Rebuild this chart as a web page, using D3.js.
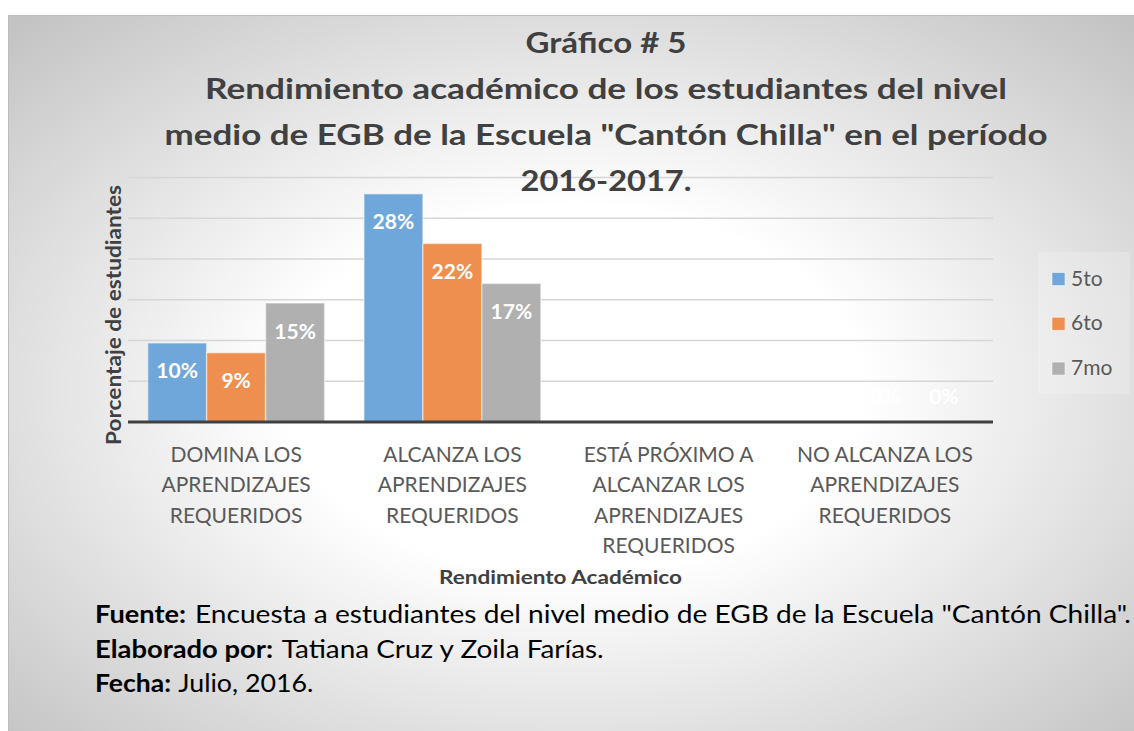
<!DOCTYPE html>
<html>
<head>
<meta charset="utf-8">
<script src="https://cdn.jsdelivr.net/npm/d3@7"></script>
<style>
  html, body { margin: 0; padding: 0; background: #ffffff; }
  svg { display: block; }
</style>
</head>
<body>
<svg id="chart" width="1134" height="731"></svg>
<script>
// ---------------- DATA ----------------
const categories = [
  ["DOMINA LOS", "APRENDIZAJES", "REQUERIDOS"],
  ["ALCANZA LOS", "APRENDIZAJES", "REQUERIDOS"],
  ["ESTÁ PRÓXIMO A", "ALCANZAR LOS", "APRENDIZAJES", "REQUERIDOS"],
  ["NO ALCANZA LOS", "APRENDIZAJES", "REQUERIDOS"]
];
const seriesNames = ["5to", "6to", "7mo"];
const values5to = [9.7, 28.0, null, null];
const values6to = [8.5, 21.9, null, 0];
const values7mo = [14.6, 17.0, null, 0];
const yTicks = [0, 5, 10, 15, 20, 25, 30];
const titleLines = [
  "Gráfico # 5",
  "Rendimiento académico de los estudiantes del nivel",
  "medio de EGB de la Escuela \"Cantón Chilla\" en el período",
  "2016-2017."
];
const yAxisTitle = "Porcentaje de estudiantes";
const xAxisTitle = "Rendimiento Académico";
const footerLines = [
  ["Fuente:", "Encuesta a estudiantes del nivel medio de EGB de la Escuela \"Cantón Chilla\"."],
  ["Elaborado por:", "Tatiana Cruz y Zoila Farías."],
  ["Fecha:", "Julio, 2016."]
];

// ---------------- STYLE / LAYOUT ----------------
const colors = ["#6FA7DA", "#EE8E4F", "#B0B0B0"];
const FONT = "Lato, 'Open Sans', sans-serif";
const svg = d3.select("#chart");

// background with gradient
const defs = svg.append("defs");
const grad = defs.append("radialGradient").attr("id", "bg")
  .attr("cx", "50%").attr("cy", "52%").attr("r", "71%");
grad.append("stop").attr("offset", "0").attr("stop-color", "#ffffff");
grad.append("stop").attr("offset", "0.36").attr("stop-color", "#ffffff");
grad.append("stop").attr("offset", "1").attr("stop-color", "#c3c3c3");

svg.append("rect").attr("x", 8.5).attr("y", 15.5).attr("width", 1130).attr("height", 720)
  .attr("fill", "url(#bg)").attr("stroke", "#bdbdbd").attr("stroke-width", 1);

// scales
const plotLeft = 128, plotRight = 993, plotTop = 177.5, plotBottom = 422;
const catKeys = categories.map(c => c.join(" "));
const x0 = d3.scaleBand().domain(catKeys).range([plotLeft, plotRight]).padding(0);
const groupW = x0.bandwidth() * 0.818;
const x1 = d3.scaleBand().domain(seriesNames).range([0, groupW]).padding(0);
const y = d3.scaleLinear().domain([0, 30]).range([plotBottom, plotTop]);

// gridlines
svg.append("g").selectAll("line").data(yTicks.filter(t => t > 0)).join("line")
  .attr("x1", plotLeft).attr("x2", plotRight)
  .attr("y1", d => y(d)).attr("y2", d => y(d))
  .attr("stroke", "#d6d6d6").attr("stroke-width", 1.5);

// bars
const allSeries = [values5to, values6to, values7mo];
const barData = [];
allSeries.forEach((vals, si) => {
  vals.forEach((v, ci) => {
    barData.push({ s: seriesNames[si], si, cat: catKeys[ci], v });
  });
});
const gBars = svg.append("g");
gBars.selectAll("rect").data(barData.filter(d => d.v !== null && d.v > 0)).join("rect")
  .attr("x", d => x0(d.cat) + (x0.bandwidth() - groupW) / 2 + x1(d.s))
  .attr("y", d => y(d.v))
  .attr("width", x1.bandwidth())
  .attr("height", d => y(0) - y(d.v))
  .attr("fill", d => colors[d.si])
  .attr("stroke", "rgba(255,255,255,0.45)").attr("stroke-width", 1.5);

// x axis line
svg.append("line").attr("x1", plotLeft).attr("x2", plotRight)
  .attr("y1", y(0)).attr("y2", y(0))
  .attr("stroke", "#404040").attr("stroke-width", 3);

// data labels
svg.append("g").selectAll("text").data(barData.filter(d => d.v !== null)).join("text")
  .attr("x", d => x0(d.cat) + (x0.bandwidth() - groupW) / 2 + x1(d.s) + x1.bandwidth() / 2)
  .attr("y", d => Math.min(y(d.v) + 35.5, y(0) - 18.5))
  .attr("text-anchor", "middle")
  .attr("font-family", FONT).attr("font-weight", "bold").attr("font-size", 21)
  .attr("fill", "#ffffff")
  .text(d => Math.round(d.v) + "%");

// category labels
const catG = svg.append("g");
categories.forEach((lines, ci) => {
  const cx = x0(catKeys[ci]) + x0.bandwidth() / 2;
  catG.append("text")
    .attr("x", cx).attr("y", 462)
    .attr("text-anchor", "middle")
    .attr("font-family", FONT).attr("font-size", 21)
    .attr("fill", "#595959")
    .selectAll("tspan").data(lines).join("tspan")
    .attr("x", cx).attr("dy", (d, i) => i === 0 ? 0 : 30.3)
    .text(d => d);
});

// axis titles
svg.append("text")
  .attr("transform", `translate(121, ${(185 + 445) / 2}) rotate(-90)`)
  .attr("text-anchor", "middle")
  .attr("font-family", FONT).attr("font-weight", "bold").attr("font-size", 20)
  .attr("fill", "#404040")
  .attr("textLength", 260).attr("lengthAdjust", "spacingAndGlyphs")
  .text(yAxisTitle);

svg.append("text")
  .attr("x", (plotLeft + plotRight) / 2).attr("y", 584)
  .attr("text-anchor", "middle")
  .attr("font-family", FONT).attr("font-weight", "bold").attr("font-size", 18)
  .attr("fill", "#404040")
  .attr("textLength", 243).attr("lengthAdjust", "spacingAndGlyphs")
  .text(xAxisTitle);

// title (drawn above gridlines)
const titleWidths = [161, 802, 883, 171];
const titleBase = [53, 99, 145, 191];
svg.append("g").selectAll("text").data(titleLines).join("text")
  .attr("x", 606).attr("y", (d, i) => titleBase[i])
  .attr("text-anchor", "middle")
  .attr("font-family", FONT).attr("font-weight", "bold").attr("font-size", 29)
  .attr("fill", "#404040")
  .attr("textLength", (d, i) => titleWidths[i]).attr("lengthAdjust", "spacingAndGlyphs")
  .text(d => d);

// legend
svg.append("rect").attr("x", 1038).attr("y", 252).attr("width", 92).attr("height", 142)
  .attr("fill", "#ffffff").attr("fill-opacity", 0.2);
const lg = svg.append("g").selectAll("g").data(seriesNames).join("g")
  .attr("transform", (d, i) => `translate(1052, ${272.5 + i * 44.8})`);
lg.append("rect").attr("width", 13).attr("height", 13)
  .attr("fill", (d, i) => colors[i]).attr("stroke", "rgba(255,255,255,0.5)").attr("stroke-width", 1);
lg.append("text").attr("x", 19).attr("y", 13)
  .attr("font-family", FONT).attr("font-size", 21)
  .attr("fill", "#595959")
  .text(d => d);

// footer
const footBase = [623.3, 658.3, 691.7];
const boldW = [91, 178, 76];
const normStart = [195, 281.7, 178.3];
const normW = [936, 322, 135];
const fg = svg.append("g");
footerLines.forEach((pair, i) => {
  fg.append("text").attr("x", 95).attr("y", footBase[i])
    .attr("font-family", FONT).attr("font-weight", "bold").attr("font-size", 25.5)
    .attr("fill", "#000000")
    .attr("textLength", boldW[i]).attr("lengthAdjust", "spacingAndGlyphs")
    .text(pair[0]);
  fg.append("text").attr("x", normStart[i]).attr("y", footBase[i])
    .attr("font-family", FONT).attr("font-size", 25.5)
    .attr("fill", "#000000")
    .attr("textLength", normW[i]).attr("lengthAdjust", "spacingAndGlyphs")
    .text(pair[1]);
});
</script>
</body>
</html>
